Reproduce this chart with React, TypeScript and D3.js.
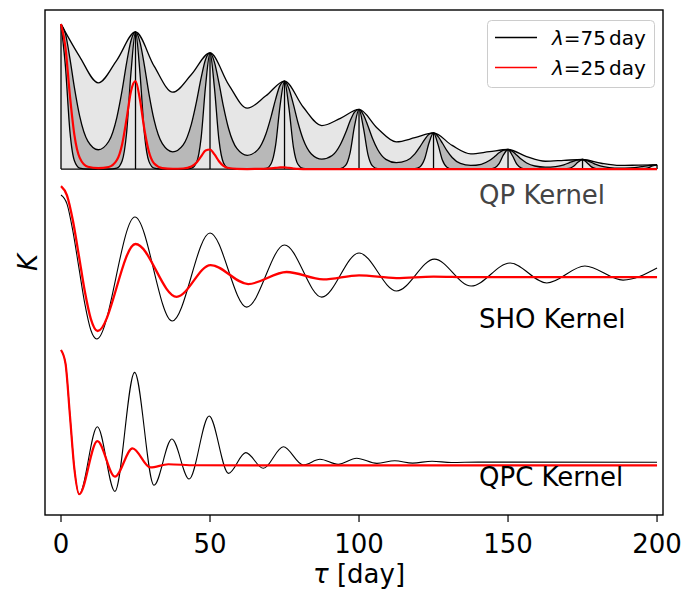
import React from 'react';
import * as d3 from 'd3';

const W = 698;
const H = 593;
const frame = { left: 45, right: 663, top: 10, bottom: 515 };

const xTicks = [0, 50, 100, 150, 200];

// QP kernel, lambda = 75 day, shared tau grid for the two inner curves
const qpTau = [
  0, 1.5, 3, 4.5, 6.25, 9, 12.5, 16, 18.75, 20.5, 22, 23.5,
  25, 26.5, 28, 29.5, 31.25, 34, 37.5, 41, 43.75, 45.5, 47, 48.5,
  50, 51.5, 53, 54.5, 56.25, 59, 62.5, 66, 68.75, 70.5, 72, 73.5,
  75, 76.5, 78, 79.5, 81.25, 84, 87.5, 91, 93.75, 95.5, 97, 98.5,
  100, 101.5, 103, 104.5, 106.25, 109, 112.5, 116, 118.75, 120.5, 122, 123.5,
  125, 126.5, 128, 129.5, 131.25, 134, 137.5, 141, 143.75, 145.5, 147, 148.5,
  150, 151.5, 153, 154.5, 156.25, 159, 162.5, 166, 168.75, 170.5, 172, 173.5,
  175, 176.5, 178, 179.5, 181.25, 184, 187.5, 191, 193.75, 195.5, 197, 198.5,
  200,
];
const qpMid = [
  1, 0.932, 0.762, 0.562, 0.367, 0.193, 0.133, 0.19, 0.357, 0.542, 0.731, 0.887,
  0.946, 0.876, 0.712, 0.521, 0.337, 0.175, 0.119, 0.167, 0.31, 0.468, 0.627, 0.756,
  0.801, 0.736, 0.594, 0.432, 0.278, 0.142, 0.095, 0.132, 0.242, 0.362, 0.481, 0.577,
  0.607, 0.554, 0.444, 0.321, 0.205, 0.104, 0.068, 0.093, 0.169, 0.25, 0.331, 0.393,
  0.411, 0.373, 0.297, 0.213, 0.135, 0.067, 0.044, 0.059, 0.105, 0.155, 0.203, 0.24,
  0.249, 0.225, 0.178, 0.127, 0.08, 0.039, 0.025, 0.033, 0.059, 0.086, 0.112, 0.131,
  0.135, 0.121, 0.095, 0.067, 0.042, 0.021, 0.013, 0.017, 0.029, 0.043, 0.055, 0.064,
  0.066, 0.058, 0.046, 0.032, 0.02, 0.01, 0.006, 0.008, 0.013, 0.019, 0.024, 0.028,
  0.029,
];
const qpNarrow = [
  1, 0.704, 0.258, 0.057, 0.007, 0, 0, 0, 0.006, 0.055, 0.247, 0.67,
  0.946, 0.661, 0.241, 0.053, 0.006, 0, 0, 0, 0.006, 0.047, 0.212, 0.571,
  0.801, 0.556, 0.201, 0.044, 0.005, 0, 0, 0, 0.004, 0.037, 0.163, 0.436,
  0.607, 0.418, 0.15, 0.033, 0.004, 0, 0, 0, 0.003, 0.025, 0.112, 0.297,
  0.411, 0.282, 0.1, 0.022, 0.002, 0, 0, 0, 0.002, 0.016, 0.069, 0.181,
  0.249, 0.17, 0.06, 0.013, 0.001, 0, 0, 0, 0.001, 0.009, 0.038, 0.099,
  0.135, 0.092, 0.032, 0.007, 0, 0, 0, 0, 0.001, 0.004, 0.019, 0.048,
  0.066, 0.044, 0.015, 0.003, 0, 0, 0, 0, 0, 0.002, 0.008, 0.021,
  0.029,
];
const qpTopTau = [
  0, 6.25, 12.5, 18.75, 25, 31.25, 37.5, 43.75, 50, 56.25, 62.5, 68.75, 75,
  81.25, 87.5, 93.75, 100, 106.25, 112.5, 118.75, 125, 131.25, 137.5, 143.75,
  150, 156.25, 162.5, 168.75, 175, 181.25, 187.5, 193.75, 200,
];
const qpTop = [
  1, 0.776, 0.595, 0.752, 0.946, 0.71, 0.53, 0.652, 0.801, 0.583, 0.42, 0.505, 0.607,
  0.428, 0.3, 0.35, 0.411, 0.28, 0.188, 0.216, 0.249, 0.163, 0.105, 0.12,
  0.135, 0.086, 0.054, 0.06, 0.066, 0.04, 0.025, 0.027, 0.029,
];
const qpPeakTau = [0, 25, 50, 75, 100, 125, 150, 175, 200];
const qpPeak = [1, 0.946, 0.801, 0.607, 0.411, 0.249, 0.135, 0.066, 0.029];

// QP kernel, lambda = 25 day
const qpRedTau = [
  0, 1.5, 3, 4.5, 6.25, 9, 12.5, 16, 18.75, 20.5, 22, 23.5,
  25, 26.5, 28, 29.5, 31.25, 34, 37.5, 41, 43.75, 45.5, 47, 48.5,
  50, 51.5, 53, 54.5, 56.25, 59, 62.5, 66, 68.75, 70.5, 72, 73.5,
  75, 76.5, 78, 79.5, 81.25, 84, 200,
];
const qpRed = [
  1, 0.837, 0.504, 0.234, 0.079, 0.016, 0.006, 0.014, 0.062, 0.17, 0.345, 0.539,
  0.607, 0.478, 0.271, 0.119, 0.038, 0.007, 0.002, 0.004, 0.018, 0.045, 0.087, 0.128,
  0.135, 0.101, 0.054, 0.022, 0.007, 0.001, 0, 0.001, 0.002, 0.005, 0.008, 0.011,
  0.011, 0.008, 0.004, 0.001, 0, 0, 0,
];

// SHO kernel (offset below the QP panel)
const shoBlackTau = [0, 2, 4, 6, 8, 10, 12, 24.8, 37.3, 50, 62.3, 75, 87.5, 100, 112.6, 125.3, 137.6, 150.7, 163, 175.8, 188.6, 200];
const shoBlack = [-0.179, -0.24, -0.43, -0.68, -0.93, -1.11, -1.172, -0.331, -1.048, -0.441, -0.952, -0.524, -0.883, -0.579, -0.841, -0.621, -0.807, -0.648, -0.786, -0.669, -0.766, -0.683];
const shoRedTau = [0, 2, 4, 6, 8, 10, 12.3, 25, 38.8, 50.2, 62.8, 75.7, 88, 100, 112.5, 125, 137.5, 200];
const shoRed = [-0.117, -0.181, -0.357, -0.597, -0.845, -1.033, -1.117, -0.517, -0.881, -0.662, -0.793, -0.71, -0.761, -0.733, -0.752, -0.742, -0.746, -0.745];

// QPC kernel (offset below the SHO panel)
const qpcBlackTau = [0, 1.5, 3, 4.5, 6.1, 12.2, 18.1, 24.7, 31.2, 37.2, 43, 49.7, 56.2, 62, 67.9, 74.6, 81.3, 86.9, 93, 99.2, 106, 112, 118, 124.5, 131, 140, 200];
const qpcBlack = [-1.248, -1.34, -1.7, -2.07, -2.243, -1.777, -2.223, -1.402, -2.181, -1.862, -2.138, -1.703, -2.099, -1.956, -2.064, -1.915, -2.041, -2.002, -2.037, -1.995, -2.03, -2.012, -2.028, -2.015, -2.024, -2.021, -2.022];
const qpcRedTau = [0, 1.5, 3, 4.5, 6.1, 12.2, 18.1, 24, 30, 36, 45, 200];
const qpcRed = [-1.248, -1.34, -1.7, -2.07, -2.243, -1.876, -2.122, -1.926, -2.058, -2.036, -2.043, -2.044];

const legendItems = [
  { lam: '75', color: '#000000' },
  { lam: '25', color: '#ff0000' },
];

const FONT = 'DejaVu Sans, sans-serif';

type P = [number, number];
const zip = (a: number[], b: number[]): P[] => a.map((t, i) => [t, b[i]]);

export default function App() {
  const x = d3.scaleLinear().domain([-5.37, 202]).range([frame.left, frame.right]);
  const y = d3.scaleLinear().domain([-2.386, 1.097]).range([frame.bottom, frame.top]);

  const line = d3.line<P>().x(d => x(d[0])).y(d => y(d[1])).curve(d3.curveMonotoneX);
  const straight = d3.line<P>().x(d => x(d[0])).y(d => y(d[1]));

  const lightArea = d3.area<P>()
    .x(d => x(d[0])).y0(y(0)).y1(d => y(d[1]))
    .curve(d3.curveMonotoneX);

  const bandData = qpTau.map((t, i) => ({ t, hi: qpMid[i], lo: qpNarrow[i] }));
  const darkArea = d3.area<{ t: number; hi: number; lo: number }>()
    .x(d => x(d.t)).y0(d => y(d.lo)).y1(d => y(d.hi))
    .curve(d3.curveMonotoneX);

  const spikes = qpPeakTau.map((t, i) => straight([[t, 0], [t, qpPeak[i]]]) as string);

  return (
    <svg width={W} height={H} style={{ position: 'absolute', left: 0, top: 0, background: '#fff' }} fontFamily={FONT}>
      {/* QP panel */}
      <path d={lightArea(zip(qpTopTau, qpTop)) as string} fill="#e6e6e6" stroke="none" />
      <path d={darkArea(bandData) as string} fill="#b8b8b8" stroke="none" />
      <path d={line(zip(qpTopTau, qpTop)) as string} fill="none" stroke="#000" strokeWidth={1.3} />
      <path d={line(zip(qpTau, qpMid)) as string} fill="none" stroke="#000" strokeWidth={1.3} />
      <path d={line(zip(qpTau, qpNarrow)) as string} fill="none" stroke="#000" strokeWidth={1.3} />
      <path d={straight([[0, 0], [200, 0]]) as string} fill="none" stroke="#000" strokeWidth={1.3} />
      {spikes.map((d, i) => (
        <path key={i} d={d} fill="none" stroke="#000" strokeWidth={1.3} />
      ))}
      <path d={line(zip(qpRedTau, qpRed)) as string} fill="none" stroke="#ff0000" strokeWidth={2.2} />

      {/* SHO panel */}
      <path d={line(zip(shoBlackTau, shoBlack)) as string} fill="none" stroke="#000" strokeWidth={1.1} />
      <path d={line(zip(shoRedTau, shoRed)) as string} fill="none" stroke="#ff0000" strokeWidth={2.3} />

      {/* QPC panel */}
      <path d={line(zip(qpcBlackTau, qpcBlack)) as string} fill="none" stroke="#000" strokeWidth={1.1} />
      <path d={line(zip(qpcRedTau, qpcRed)) as string} fill="none" stroke="#ff0000" strokeWidth={2.2} />

      {/* panel labels */}
      <text x={479} y={204} fontSize={26} fill="#444">QP Kernel</text>
      <text x={479} y={328} fontSize={26} fill="#000">SHO Kernel</text>
      <text x={479} y={486} fontSize={26} fill="#000">QPC Kernel</text>

      {/* frame */}
      <rect x={frame.left} y={frame.top} width={frame.right - frame.left} height={frame.bottom - frame.top}
        fill="none" stroke="#000" strokeWidth={1.4} />

      {/* x axis */}
      {xTicks.map(t => (
        <g key={t} transform={`translate(${x(t)},${frame.bottom})`}>
          <line y1={0} y2={7} stroke="#000" strokeWidth={1.2} />
          <text y={38} textAnchor="middle" fontSize={26} fill="#000">{t}</text>
        </g>
      ))}
      <text x={x(100)} y={583} textAnchor="middle" fontSize={26} fill="#000">
        <tspan fontStyle="italic">τ</tspan> [day]
      </text>
      <text transform={`translate(37,${(frame.top + frame.bottom) / 2}) rotate(-90)`} textAnchor="middle"
        fontSize={26} fontStyle="italic" fill="#000">K</text>

      {/* legend */}
      <rect x={487.5} y={20.5} width={167} height={67} rx={4} fill="#fff" fillOpacity={0.8} stroke="#cccccc" strokeWidth={1} />
      {legendItems.map((it, i) => (
        <g key={it.lam} transform={`translate(0,${37.5 + i * 30})`}>
          <line x1={495} x2={537} y1={0} y2={0} stroke={it.color} strokeWidth={1.6} />
          <text x={552} y={7} fontSize={20} fill="#000">
            <tspan fontStyle="italic">λ</tspan>={it.lam}<tspan dx={3}>day</tspan>
          </text>
        </g>
      ))}
    </svg>
  );
}
